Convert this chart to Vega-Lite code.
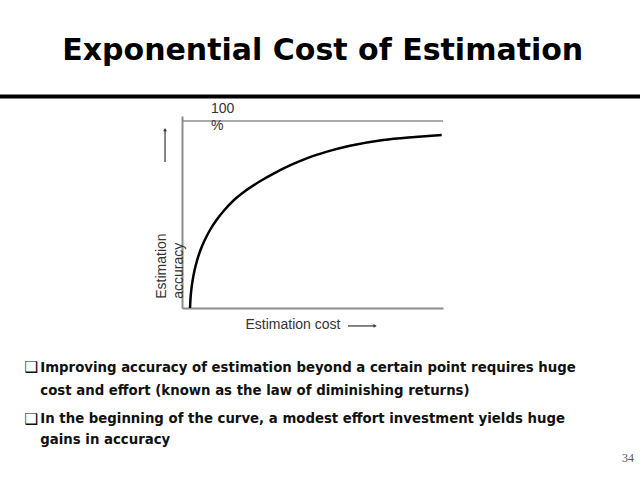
{
  "$schema": "https://vega.github.io/schema/vega-lite/v6.json",
  "width": 261,
  "height": 192,
  "autosize": "none",
  "padding": {"left": 182, "top": 116, "right": 197, "bottom": 172},
  "background": "white",
  "config": {"view": {"stroke": null}},
  "datasets": {
    "curve": [
      {"cost": 3.07, "accuracy": 0},
      {"cost": 3.22, "accuracy": 4.28},
      {"cost": 3.56, "accuracy": 9.63},
      {"cost": 4.10, "accuracy": 14.97},
      {"cost": 4.83, "accuracy": 20.32},
      {"cost": 5.82, "accuracy": 25.67},
      {"cost": 7.09, "accuracy": 31.02},
      {"cost": 8.74, "accuracy": 36.36},
      {"cost": 10.73, "accuracy": 41.71},
      {"cost": 13.22, "accuracy": 47.06},
      {"cost": 16.28, "accuracy": 52.41},
      {"cost": 19.92, "accuracy": 57.75},
      {"cost": 24.52, "accuracy": 62.9},
      {"cost": 29.89, "accuracy": 67.8},
      {"cost": 35.63, "accuracy": 72.3},
      {"cost": 41.76, "accuracy": 76.5},
      {"cost": 48.28, "accuracy": 80.3},
      {"cost": 55.56, "accuracy": 83.6},
      {"cost": 64.37, "accuracy": 86.74},
      {"cost": 77.13, "accuracy": 89.84},
      {"cost": 89.27, "accuracy": 91.44},
      {"cost": 99.5, "accuracy": 92.51}
    ]
  },
  "layer": [
    {
      "data": {"values": [{"what": "separator"}]},
      "mark": {"type": "rule", "color": "#000000", "strokeWidth": 4},
      "encoding": {
        "x": {"datum": -69.8, "type": "quantitative"},
        "x2": {"datum": 175.5},
        "y": {"datum": 113.1, "type": "quantitative"}
      }
    },
    {
      "data": {"values": [{"what": "100% line"}]},
      "mark": {"type": "rule", "color": "#8c8c8c", "strokeWidth": 1.5},
      "encoding": {
        "x": {"datum": 0, "type": "quantitative"},
        "x2": {"datum": 100},
        "y": {"datum": 100, "type": "quantitative"}
      }
    },
    {
      "data": {"name": "curve"},
      "mark": {"type": "line", "color": "#000000", "strokeWidth": 2.5, "interpolate": "monotone"},
      "encoding": {
        "x": {
          "field": "cost", "type": "quantitative",
          "scale": {"domain": [0, 100], "nice": false, "zero": false},
          "axis": {
            "domainColor": "#8c8c8c", "domainWidth": 2, "ticks": false, "labels": false, "grid": false,
            "title": "Estimation cost", "titleFont": "Liberation Sans", "titleFontSize": 14,
            "titleFontWeight": "normal", "titleColor": "#333333",
            "titleX": 63, "titleY": 20.3, "titleAlign": "left", "titleBaseline": "alphabetic", "titleAngle": 0
          }
        },
        "y": {
          "field": "accuracy", "type": "quantitative",
          "scale": {"domain": [0, 102.67], "nice": false, "zero": false},
          "axis": {
            "domainColor": "#8c8c8c", "domainWidth": 2, "ticks": false, "labels": false, "grid": false,
            "title": ["Estimation", "accuracy"], "titleFont": "Liberation Sans", "titleFontSize": 14,
            "titleFontWeight": "normal", "titleColor": "#333333", "titleLineHeight": 17,
            "titleX": -17, "titleY": 182.3, "titleAlign": "left", "titleBaseline": "alphabetic", "titleAngle": 270
          }
        }
      }
    },
    {
      "data": {"values": [{"label": "100\n%"}]},
      "mark": {"type": "text", "font": "Liberation Sans", "fontSize": 14, "color": "#333333", "align": "left", "baseline": "alphabetic", "lineBreak": "\n", "lineHeight": 16.7},
      "encoding": {
        "x": {"datum": 11.1, "type": "quantitative"},
        "y": {"datum": 104.1, "type": "quantitative"},
        "text": {"field": "label"}
      }
    },
    {
      "data": {"values": [{"what": "up arrow"}]},
      "mark": {"type": "rule", "color": "#333333", "strokeWidth": 1.2},
      "encoding": {
        "x": {"datum": -6.5, "type": "quantitative"},
        "y": {"datum": 78.1, "type": "quantitative"},
        "y2": {"datum": 95.0}
      }
    },
    {
      "data": {"values": [{"what": "up arrow head"}]},
      "mark": {"type": "point", "shape": "triangle-up", "filled": true, "color": "#333333", "size": 14, "opacity": 1},
      "encoding": {
        "x": {"datum": -6.5, "type": "quantitative"},
        "y": {"datum": 95.4, "type": "quantitative"}
      }
    },
    {
      "data": {"values": [{"what": "right arrow"}]},
      "mark": {"type": "rule", "color": "#333333", "strokeWidth": 1.2},
      "encoding": {
        "x": {"datum": 63.6, "type": "quantitative"},
        "x2": {"datum": 73.8},
        "y": {"datum": -9.6, "type": "quantitative"}
      }
    },
    {
      "data": {"values": [{"what": "right arrow head"}]},
      "mark": {"type": "point", "shape": "triangle-right", "filled": true, "color": "#333333", "size": 14, "opacity": 1},
      "encoding": {
        "x": {"datum": 74.0, "type": "quantitative"},
        "y": {"datum": -9.6, "type": "quantitative"}
      }
    },
    {
      "data": {"values": [{"label": "Exponential Cost of Estimation"}]},
      "mark": {"type": "text", "font": "DejaVu Sans", "fontWeight": "bold", "fontSize": 30, "color": "#000000", "align": "left", "baseline": "alphabetic"},
      "encoding": {
        "x": {"datum": -45.9, "type": "quantitative"},
        "y": {"datum": 132.6, "type": "quantitative"},
        "text": {"field": "label"}
      }
    },
    {
      "data": {"values": [{"label": "\u2751"}]},
      "mark": {"type": "text", "font": "DejaVu Sans", "fontSize": 15.5, "color": "#111111", "align": "left", "baseline": "alphabetic"},
      "encoding": {
        "x": {"datum": -60.4, "type": "quantitative"},
        "y": {"datum": -34.3, "type": "quantitative"},
        "text": {"field": "label"}
      }
    },
    {
      "data": {"values": [{"label": "\u2751"}]},
      "mark": {"type": "text", "font": "DejaVu Sans", "fontSize": 15.5, "color": "#111111", "align": "left", "baseline": "alphabetic"},
      "encoding": {
        "x": {"datum": -60.4, "type": "quantitative"},
        "y": {"datum": -61.9, "type": "quantitative"},
        "text": {"field": "label"}
      }
    },
    {
      "data": {"values": [{"label": "Improving accuracy of estimation beyond a certain point requires huge\ncost and effort (known as the law of diminishing returns)"}]},
      "mark": {"type": "text", "font": "DejaVu Sans", "fontWeight": "bold", "fontSize": 13.3, "color": "#111111", "align": "left", "baseline": "alphabetic", "lineBreak": "\n", "lineHeight": 23.3},
      "encoding": {
        "x": {"datum": -54.3, "type": "quantitative"},
        "y": {"datum": -34.1, "type": "quantitative"},
        "text": {"field": "label"}
      }
    },
    {
      "data": {"values": [{"label": "In the beginning of the curve, a modest effort investment yields huge\ngains in accuracy"}]},
      "mark": {"type": "text", "font": "DejaVu Sans", "fontWeight": "bold", "fontSize": 13.3, "color": "#111111", "align": "left", "baseline": "alphabetic", "lineBreak": "\n", "lineHeight": 21},
      "encoding": {
        "x": {"datum": -54.3, "type": "quantitative"},
        "y": {"datum": -61.7, "type": "quantitative"},
        "text": {"field": "label"}
      }
    },
    {
      "data": {"values": [{"label": "34"}]},
      "mark": {"type": "text", "font": "Liberation Serif", "fontSize": 12, "color": "#555555", "align": "left", "baseline": "alphabetic"},
      "encoding": {
        "x": {"datum": 168.6, "type": "quantitative"},
        "y": {"datum": -82.4, "type": "quantitative"},
        "text": {"field": "label"}
      }
    }
  ]
}
